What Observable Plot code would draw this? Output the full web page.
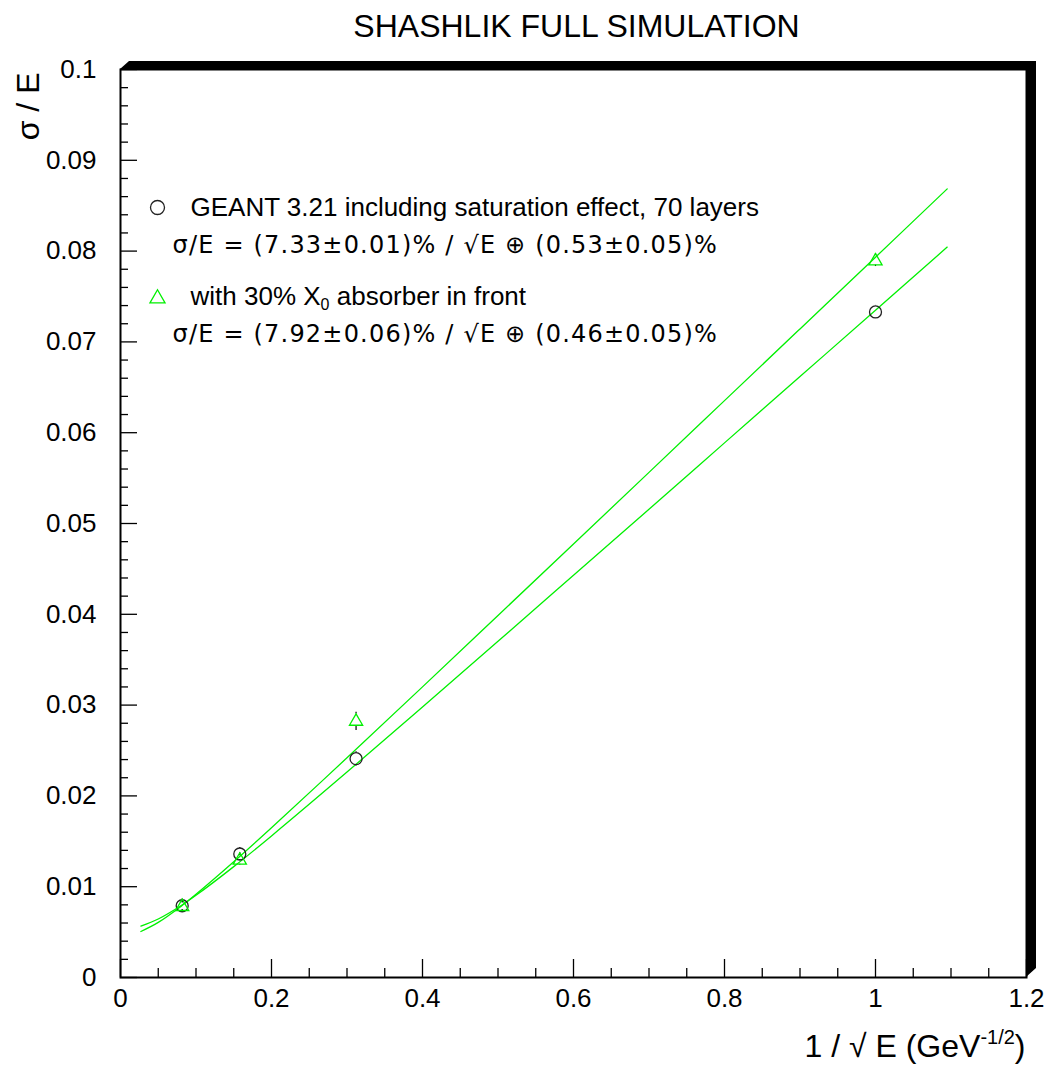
<!DOCTYPE html>
<html><head><meta charset="utf-8">
<script src="https://cdn.jsdelivr.net/npm/d3@7"></script>
<script src="https://cdn.jsdelivr.net/npm/@observablehq/plot@0.6"></script>
<style>body{margin:0;background:#fff;} #chart svg{display:block;}</style>
</head><body><div id="chart"></div>
<script>
// ---- data ----
const title = "SHASHLIK FULL SIMULATION";
const xLabel = "1 / √ E (GeV-1/2)";
const yLabel = "σ / E";
const xTicks = [0, 0.2, 0.4, 0.6, 0.8, 1.0, 1.2];
const xTickLabels = ["0", "0.2", "0.4", "0.6", "0.8", "1", "1.2"];
const yTicks = [0, 0.01, 0.02, 0.03, 0.04, 0.05, 0.06, 0.07, 0.08, 0.09, 0.1];
const yTickLabels = ["0", "0.01", "0.02", "0.03", "0.04", "0.05", "0.06", "0.07", "0.08", "0.09", "0.1"];

const circleX = [0.0817, 0.158, 0.312, 1.0];
const circleY = [0.0079, 0.0136, 0.0241, 0.0733];
const circleErr = [0.0004, 0.0006, 0.0008, 0.0007];

const triX = [0.0817, 0.158, 0.312, 1.0];
const triY = [0.0078, 0.0129, 0.0282, 0.0789];
const triErr = [0.0004, 0.0005, 0.0010, 0.0006];

const fitX = [0.027, 0.05, 0.08, 0.1, 0.15, 0.2, 0.3, 0.4, 0.5, 0.6, 0.7, 0.8, 0.9, 1.0, 1.095];
const fitCircle = [0.00566, 0.00644, 0.00790, 0.00905, 0.01221, 0.01559, 0.02262, 0.02980, 0.03703, 0.04430, 0.05158, 0.05888, 0.06618, 0.07349, 0.08044];
const fitTri = [0.00507, 0.00607, 0.00783, 0.00916, 0.01274, 0.01649, 0.02420, 0.03201, 0.03987, 0.04774, 0.05563, 0.06353, 0.07143, 0.07933, 0.08685];

const legend1 = "GEANT 3.21 including saturation effect, 70 layers";
const legend1Fit = "σ/E = (7.33±0.01)% / √E ⊕ (0.53±0.05)%";
const legend2 = "with 30% X0 absorber in front";
const legend2Fit = "σ/E = (7.92±0.06)% / √E ⊕ (0.46±0.05)%";

// ---- layout ----
const W = 1050, H = 1070;
const mL = 120, mR = 24, mT = 69, mB = 93;
const innerW = W - mL - mR, innerH = H - mT - mB;
const GREEN = "#00f000";
const FONT = "Liberation Sans, Arial, sans-serif";
const FORMULA_FONT = "DejaVu Sans, sans-serif";

const circles = circleX.map((x, i) => ({x, y: circleY[i], e: circleErr[i]}));
const tris = triX.map((x, i) => ({x, y: triY[i], e: triErr[i]}));
const fitC = fitX.map((x, i) => ({x, y: fitCircle[i]}));
const fitT = fitX.map((x, i) => ({x, y: fitTri[i]}));

const xMinor = d3.range(0.05, 1.2, 0.05).filter(v => Math.abs(v / 0.2 - Math.round(v / 0.2)) > 1e-6);
const yMinor = d3.range(0.002, 0.1, 0.002).filter(v => Math.abs(v / 0.01 - Math.round(v / 0.01)) > 1e-6);

const shadow = (index, scales, values, dim) => {
  const x0 = dim.marginLeft, x1 = dim.width - dim.marginRight;
  const y0 = dim.marginTop, y1 = dim.height - dim.marginBottom;
  const g = d3.create("svg:g");
  g.append("path")
    .attr("d", `M${x0},${y0} L${x0 + 9},${y0 - 8} L${x1 + 10},${y0 - 8} L${x1 + 10},${y1 - 9} L${x1},${y1} L${x1},${y0} Z`)
    .attr("fill", "black");
  return g.node();
};

const plot = Plot.plot({
  width: W, height: H,
  marginLeft: mL, marginRight: mR, marginTop: mT, marginBottom: mB,
  style: {fontFamily: FONT, background: "white", color: "black"},
  x: {domain: [0, 1.2], axis: null},
  y: {domain: [0, 0.1], axis: null},
  marks: [
    shadow,
    Plot.frame({stroke: "black", strokeWidth: 2}),
    // inward ticks
    Plot.tickY(yMinor, {y: d => d, insetRight: innerW - 8, stroke: "black", strokeWidth: 1.3}),
    Plot.tickY(yTicks, {y: d => d, insetRight: innerW - 17, stroke: "black", strokeWidth: 1.3}),
    Plot.tickX(xMinor, {x: d => d, insetTop: innerH - 9, stroke: "black", strokeWidth: 1.3}),
    Plot.tickX(xTicks, {x: d => d, insetTop: innerH - 18, stroke: "black", strokeWidth: 1.3}),
    // tick labels
    Plot.axisY({ticks: yTicks, tickSize: 0, tickPadding: 24, tickFormat: (d, i) => yTickLabels[i], fontSize: 26, label: null}),
    Plot.axisX({ticks: xTicks, tickSize: 0, tickPadding: 11, tickFormat: (d, i) => xTickLabels[i], fontSize: 26, label: null}),
    // fit curves
    Plot.line(fitC, {x: "x", y: "y", stroke: GREEN, strokeWidth: 1.3, curve: "catmull-rom"}),
    Plot.line(fitT, {x: "x", y: "y", stroke: GREEN, strokeWidth: 1.3, curve: "catmull-rom"}),
    // error bars (outside markers)
    Plot.ruleX(circles, {x: "x", y1: d => d.y + d.e, y2: "y", insetBottom: 6.5, stroke: "black", strokeWidth: 1.2}),
    Plot.ruleX(circles, {x: "x", y1: "y", y2: d => d.y - d.e, insetTop: 6.5, stroke: "black", strokeWidth: 1.2}),
    Plot.ruleX(tris, {x: "x", y1: d => d.y + d.e, y2: "y", insetBottom: 7.5, stroke: "black", strokeWidth: 1.2}),
    Plot.ruleX(tris, {x: "x", y1: "y", y2: d => d.y - d.e, insetTop: 4, stroke: "black", strokeWidth: 1.2}),
    // markers
    Plot.dot(circles, {x: "x", y: "y", r: 6, stroke: "#222", strokeWidth: 1.3, fill: "none"}),
    Plot.dot(tris, {x: "x", y: "y", r: 4.9, symbol: "triangle", stroke: GREEN, strokeWidth: 1.3, fill: "none"}),
    // legend
    Plot.dot([0], {x: null, y: null, frameAnchor: "top-left", dx: 37, dy: 138, r: 7, stroke: "#222", strokeWidth: 1.3, fill: "none"}),
    Plot.dot([0], {x: null, y: null, frameAnchor: "top-left", dx: 37, dy: 229, r: 5.6, symbol: "triangle", stroke: GREEN, strokeWidth: 1.3, fill: "none"}),
    Plot.text([legend1], {frameAnchor: "top-left", dx: 70, dy: 138, textAnchor: "start", lineAnchor: "middle", fontSize: 26, fill: "black"}),
    Plot.text([legend1Fit], {frameAnchor: "top-left", dx: 52, dy: 176, textAnchor: "start", lineAnchor: "middle", fontSize: 24, fontFamily: FORMULA_FONT, fill: "black"}),
    Plot.text([legend2], {frameAnchor: "top-left", dx: 70, dy: 227, textAnchor: "start", lineAnchor: "middle", fontSize: 26, fill: "black"}),
    Plot.text([legend2Fit], {frameAnchor: "top-left", dx: 52, dy: 265, textAnchor: "start", lineAnchor: "middle", fontSize: 24, fontFamily: FORMULA_FONT, fill: "black"}),
    // titles
    Plot.text([title], {frameAnchor: "top", dx: 3, dy: -43, lineAnchor: "middle", fontSize: 32, fill: "black"}),
    Plot.text([yLabel], {frameAnchor: "top-left", dx: -92, dy: 3, rotate: -90, textAnchor: "end", lineAnchor: "middle", fontSize: 32, fill: "black"}),
    Plot.text([xLabel], {frameAnchor: "bottom-right", dx: -1, dy: 69, textAnchor: "end", lineAnchor: "middle", fontSize: 32, fill: "black"})
  ]
});

// superscript / subscript rich text, spaced formula lines
d3.select(plot).selectAll("text").each(function () {
  const t = this.textContent;
  const sel = d3.select(this);
  if (t === xLabel) {
    sel.text(null);
    sel.append("tspan").text("1 / √ E (GeV");
    sel.append("tspan").attr("dy", -13).attr("font-size", 20).text("-1/2");
    sel.append("tspan").attr("dy", 13).text(")");
  } else if (t === legend2) {
    sel.text(null);
    sel.append("tspan").text("with 30% X");
    sel.append("tspan").attr("dy", 5).attr("font-size", 16).text("0");
    sel.append("tspan").attr("dy", -5).text(" absorber in front");
  } else if (t === legend1Fit || t === legend2Fit) {
    sel.attr("letter-spacing", 1.2);
  }
});

document.getElementById("chart").appendChild(plot);
</script>
</body></html>
